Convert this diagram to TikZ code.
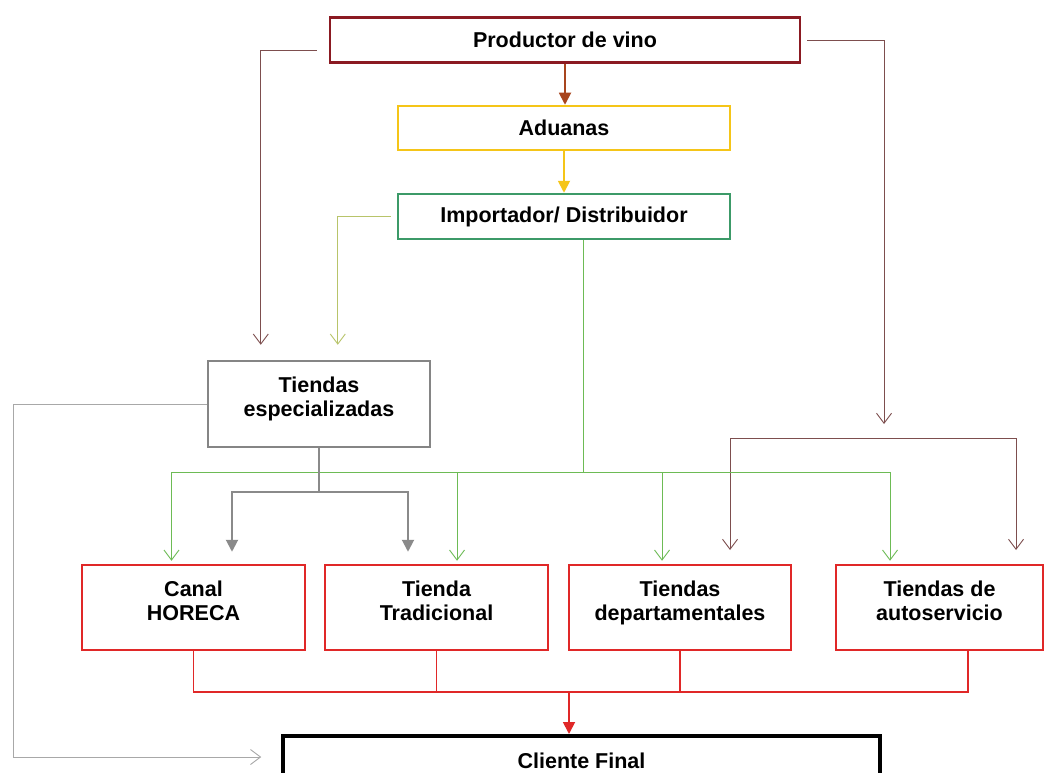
\documentclass[tikz,border=0pt]{standalone}
\usepackage{fontspec}
\setmainfont{Liberation Sans}
\usetikzlibrary{arrows.meta,calc}
\definecolor{prodred}{HTML}{8B1A22}
\definecolor{brownarr}{HTML}{A8451E}
\definecolor{aduyellow}{HTML}{F5C518}
\definecolor{impgreen}{HTML}{3C9A68}
\definecolor{greenline}{HTML}{6DBB55}
\definecolor{oliveline}{HTML}{B8C46A}
\definecolor{brownline}{HTML}{7D4E4E}
\definecolor{espgray}{HTML}{858585}
\definecolor{grayarr}{HTML}{8A8A8A}
\definecolor{lgrayline}{HTML}{A8A8A8}
\definecolor{boxred}{HTML}{E02828}
\begin{document}
\begin{tikzpicture}[x=1pt,y=-1pt,
  box/.style={draw, line width=2.5pt, rectangle, align=center, inner sep=0pt,
    font=\fontsize{21.5}{24}\selectfont\bfseries},
  twoline/.style={text depth=14pt},
  thinline/.style={line width=0.9pt},
  openarr/.style={-{Straight Barb[length=10pt,width=15pt]}},
  fillarr/.style={-{Triangle[length=12pt,width=12pt]}}]
\useasboundingbox (0,0) rectangle (1047,773);
\clip (0,0) rectangle (1047,773);
\fill[white] (0,0) rectangle (1047,773);

% nodes
\node[box, draw=prodred, minimum width=470pt, minimum height=45pt] (prod) at (565,40) {Productor de vino};
\node[box, draw=aduyellow, minimum width=332pt, minimum height=44pt] (adu) at (564,128) {Aduanas};
\node[box, draw=impgreen, minimum width=332pt, minimum height=45pt] (imp) at (564,216.5) {Importador/ Distribuidor};
\node[box, draw=espgray, minimum width=222pt, minimum height=86pt, twoline] (esp) at (319,404) {Tiendas\\especializadas};
\node[box, draw=boxred, minimum width=223pt, minimum height=85pt, twoline] (horeca) at (193.5,607.5) {Canal\\HORECA};
\node[box, draw=boxred, minimum width=223pt, minimum height=85pt, twoline] (trad) at (436.5,607.5) {Tienda\\Tradicional};
\node[box, draw=boxred, minimum width=222pt, minimum height=85pt, twoline] (dept) at (680,607.5) {Tiendas\\departamentales};
\node[box, draw=boxred, minimum width=207pt, minimum height=85pt, twoline] (auto) at (939.5,607.5) {Tiendas de\\autoservicio};
\node[box, draw=black, line width=3.5pt, minimum width=597pt, minimum height=50pt, anchor=north] (cli) at (581.5,734) {Cliente Final};

% coordinates
\coordinate (rb) at (884,424);
\coordinate (btop) at (873,438);
\coordinate (b1) at (730,550);
\coordinate (b2) at (1016,550);
\coordinate (gbus) at (583,472);
\coordinate (gsplit) at (320,492);
\coordinate (lcorner) at (13,757);
\coordinate (rbus) at (569,692);

% main chain
\draw[fillarr, line width=1.8pt, draw=brownarr] (prod.south) -- (prod.south |- adu.north);
\draw[fillarr, line width=1.8pt, draw=aduyellow] (adu.south) -- (adu.south |- imp.north);

% brown thin lines
\draw[thinline, draw=brownline, openarr] ($(prod.west)+(-12,10)$) -| ($(esp.north west)+(54,-15)$);
\draw[thinline, draw=brownline, openarr] ($(prod.east)+(6,0)$) -| (rb);
\draw[thinline, draw=brownline, openarr] (btop) -| (b1);
\draw[thinline, draw=brownline, openarr] (btop) -| (b2);

% olive line
\draw[thinline, draw=oliveline, openarr] ($(imp.west)+(-6,0)$) -| ($(esp.north west)+(131,-15)$);

% green lines
\draw[thinline, draw=greenline] ($(imp.south)+(19,0)$) -- (gbus);
\draw[thinline, draw=greenline, openarr] (gbus) -| ($(horeca.north)+(-22,-3)$);
\draw[thinline, draw=greenline, openarr] (gbus) -| ($(trad.north)+(20.5,-3)$);
\draw[thinline, draw=greenline, openarr] (gbus) -| ($(dept.north)+(-18,-3)$);
\draw[thinline, draw=greenline, openarr] (gbus) -| ($(auto.north)+(-49.5,-3)$);

% gray from especializadas
\draw[line width=2pt, draw=grayarr] (esp.south) -- (esp.south |- gsplit);
\draw[line width=2pt, draw=grayarr, fillarr] (esp.south |- gsplit) -| ($(horeca.north)+(38.5,-12)$);
\draw[line width=2pt, draw=grayarr, fillarr] (esp.south |- gsplit) -| ($(trad.north)+(-28.5,-12)$);

% gray left line to cliente
\draw[thinline, draw=lgrayline, openarr] (esp.west) -| (lcorner) -- ($(cli.west |- lcorner)+(-20,0)$);

% red collectors
\draw[line width=1.2pt, draw=boxred] (horeca.south) |- (rbus);
\draw[line width=1.2pt, draw=boxred] (trad.south) -- (trad.south |- rbus);
\draw[line width=1.2pt, draw=boxred] (dept.south) -- (dept.south |- rbus);
\draw[line width=1.2pt, draw=boxred] ($(auto.south)+(28.5,0)$) |- (rbus);
\draw[line width=1.8pt, draw=boxred, fillarr] (rbus) -- (rbus |- cli.north);
\end{tikzpicture}
\end{document}
